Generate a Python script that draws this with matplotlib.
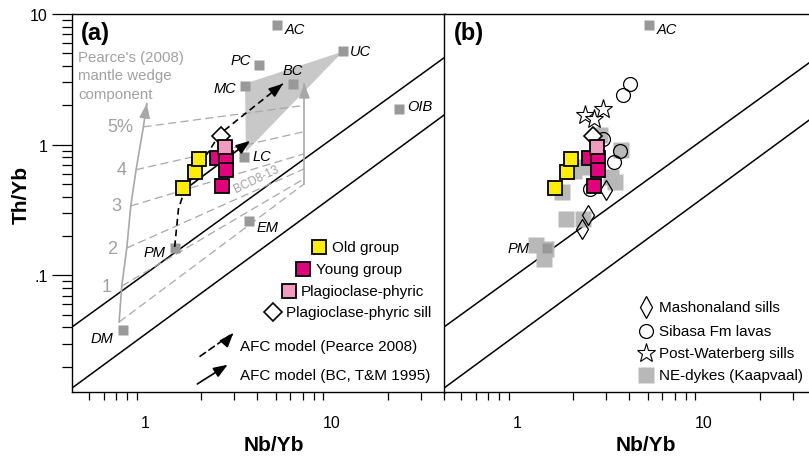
import numpy as np
import matplotlib
matplotlib.use('Agg')
import matplotlib.pyplot as plt
from matplotlib.ticker import FixedLocator, FuncFormatter, NullFormatter
from matplotlib.patches import Polygon

plt.rcParams['font.family'] = ['Liberation Sans', 'DejaVu Sans']

# ---------------- data ----------------
ref_names = ['AC', 'UC', 'PC', 'MC', 'BC', 'OIB', 'LC', 'EM', 'PM', 'DM']
ref_nb = [5.1, 11.5, 4.1, 3.45, 6.2, 23.0, 3.4, 3.6, 1.44, 0.76]
ref_th = [8.3, 5.2, 4.1, 2.8, 2.9, 1.88, 0.80, 0.26, 0.162, 0.038]

old_nb = [1.60, 1.84, 1.95]
old_th = [0.469, 0.618, 0.781]
young_nb = [2.44, 2.72, 2.72, 2.58]
young_th = [0.791, 0.79, 0.636, 0.483]
plag_nb = [2.68]
plag_th = [0.96]
sill_nb = [2.55]
sill_th = [1.16]

mash_nb = [3.00, 2.40, 2.24]
mash_th = [0.453, 0.288, 0.225]
sibasa_nb = [4.01, 3.69, 2.88, 3.54, 3.30, 2.45]
sibasa_th = [2.93, 2.41, 1.10, 0.889, 0.737, 0.461]
pw_nb = [2.30, 2.58, 2.88]
pw_th = [1.68, 1.58, 1.86]
ne_nb = [2.77, 3.62, 2.25, 2.03, 3.20, 3.33, 1.73, 1.82, 2.25, 1.27, 1.42, 1.39]
ne_th = [1.18, 0.905, 0.675, 0.632, 0.569, 0.521, 0.437, 0.268, 0.272, 0.170, 0.160, 0.134]

array_nb = [0.4, 40.0]
array_upper_th = [0.0397, 4.63]
array_lower_th = [0.01354, 1.69]

bc_field_nb = [3.43, 11.5, 3.47]
bc_field_th = [2.93, 5.17, 0.884]

wedge_labels = ['', '1', '2', '3', '4', '5%']
wedge_nb = [0.726, 0.750, 0.798, 0.838, 0.895, 0.979]
wedge_th = [0.044, 0.083, 0.162, 0.340, 0.644, 1.37]
wedge_tip_nb = 1.021
wedge_tip_th = 2.06
bcd_nb = 7.13
bcd_th = [0.503, 0.55, 0.655, 0.853, 1.26, 2.0]
bcd_tip_th = 2.93

afc_p_nb = [1.44, 1.51, 1.64, 1.81, 2.10, 2.52, 3.65, 5.48]
afc_p_th = [0.165, 0.324, 0.461, 0.579, 0.809, 1.21, 1.85, 2.93]
afc_bc_nb = [1.60, 3.65]
afc_bc_th = [0.445, 1.07]

y_ticks = [0.1, 1, 10]
y_ticklabels = ['.1', '1', '10']
x_ticks = [1, 10]
x_ticklabels = ['1', '10']

# ---------------- styles ----------------
YELLOW = '#FFEE00'
MAGENTA = '#E4007C'
PINK = '#F09CC0'
REFGRAY = '#999999'
NEGRAY = '#B8B8B8'
FIELD = '#C8C8C8'
MIXGRAY = '#A8A8A8'
TXTGRAY = '#A0A0A0'

W, H = 809, 460
fig = plt.figure(figsize=(W / 100, H / 100), dpi=100)
ax_l, ax_r, ax_t, ax_b = 72, 445, 15, 392.7
aw = (ax_r - ax_l) / W
ah = (ax_b - ax_t) / H
axA = fig.add_axes([ax_l / W, 1 - ax_b / H, aw, ah])
axB = fig.add_axes([444 / W, 1 - ax_b / H, aw, ah])

XLIM = (0.406, 40.4)
YLIM = (0.0129, 10)
minor_x = [m * 10 ** e for e in (-1, 0, 1) for m in range(2, 10)]
minor_y = [m * 10 ** e for e in (-2, -1, 0) for m in range(2, 10)]

for ax in (axA, axB):
    ax.set_xscale('log')
    ax.set_yscale('log')
    ax.set_xlim(*XLIM)
    ax.set_ylim(*YLIM)
    for s in ax.spines.values():
        s.set_linewidth(1.0)
    ax.xaxis.set_major_locator(FixedLocator(x_ticks))
    ax.xaxis.set_major_formatter(FuncFormatter(lambda v, p: x_ticklabels[x_ticks.index(round(v))] if round(v) in x_ticks else ''))
    ax.xaxis.set_minor_locator(FixedLocator(minor_x))
    ax.xaxis.set_minor_formatter(NullFormatter())
    ax.tick_params(axis='x', which='major', length=0, pad=17, labelsize=11.5)
    ax.tick_params(axis='x', which='minor', length=6, width=0.9, direction='out')
    ax.yaxis.set_major_locator(FixedLocator(y_ticks))
    ax.yaxis.set_major_formatter(FuncFormatter(
        lambda v, p: y_ticklabels[int(np.argmin([abs(np.log10(v) - np.log10(t)) for t in y_ticks]))]))
    ax.yaxis.set_minor_locator(FixedLocator(minor_y))
    ax.yaxis.set_minor_formatter(NullFormatter())
    ax.tick_params(axis='y', which='major', length=14.5, width=0.9, labelsize=11.5, pad=3)
    ax.tick_params(axis='y', which='minor', length=7.5, width=0.9)
    ax.tick_params(top=False, right=False)
    # mantle array lines
    ax.plot(array_nb, array_upper_th, color='black', lw=1.1, zorder=2)
    ax.plot(array_nb, array_lower_th, color='black', lw=1.1, zorder=2)
    ax.text(0.541, -0.14, 'Nb/Yb', transform=ax.transAxes, ha='center', va='center',
            fontsize=15, fontweight='bold')

axB.tick_params(axis='y', which='both', left=False, labelleft=False)
fig.text(21.7 / W, 1 - 195 / H, 'Th/Yb', rotation=90, ha='center', va='center',
         fontsize=15, fontweight='bold')


def px2ax(px, py):
    return ((px - ax_l) / (ax_r - ax_l), (ax_b - py) / (ax_b - ax_t))


def arrow_head(ax, xs, ys, color, lw=1.2, hl=0.85, hw=0.32, z=5):
    tx, ty = xs[-1], ys[-1]
    px, py = xs[-2], ys[-2]
    # start very close to the tip in log space so only the head shows
    sx = tx * (px / tx) ** 0.02
    sy = ty * (py / ty) ** 0.02
    ax.annotate('', xy=(tx, ty), xytext=(sx, sy),
                arrowprops=dict(arrowstyle=f'-|>,head_length={hl},head_width={hw}',
                                color=color, lw=lw, shrinkA=0, shrinkB=0), zorder=z)


def ref_label(ax, name, x, y, dx, dy, ha):
    ax.annotate(name, (x, y), xytext=(dx * 0.72, -dy * 0.72), textcoords='offset points',
                ha=ha, va='center', fontsize=10.5, style='italic', zorder=8)


# ---------------- panel (a) ----------------
axA.add_patch(Polygon(np.column_stack([bc_field_nb, bc_field_th]), closed=True,
                      facecolor=FIELD, edgecolor='none', zorder=1))

# mantle wedge component curve and mixing lines
wx = wedge_nb + [wedge_tip_nb]
wy = wedge_th + [wedge_tip_th]
axA.plot(wx, wy, color=MIXGRAY, lw=1.2, zorder=2)
arrow_head(axA, wx, wy, MIXGRAY, lw=1.2, z=2)
axA.plot([bcd_nb, bcd_nb], [bcd_th[0], bcd_tip_th], color=MIXGRAY, lw=1.2, zorder=2)
arrow_head(axA, [bcd_nb, bcd_nb], [bcd_th[0], bcd_tip_th], MIXGRAY, lw=1.2, z=2)
for x0, y0, y1 in zip(wedge_nb, wedge_th, bcd_th):
    axA.plot([x0, bcd_nb], [y0, y1], color=MIXGRAY, lw=0.9, ls=(0, (6.5, 3.5)), zorder=2)
for lab, x0, y0 in zip(wedge_labels, wedge_nb, wedge_th):
    if lab:
        axA.annotate(lab, (x0, y0), xytext=(-7, 0), textcoords='offset points',
                     ha='right', va='center', fontsize=13, color=TXTGRAY)
for i, line in enumerate(["Pearce's (2008)", 'mantle wedge', 'component']):
    axA.text(*px2ax(78, [58, 76.5, 95][i]), line, transform=axA.transAxes, ha='left',
             va='center', fontsize=10.8, color=TXTGRAY)
axA.text(3.93, 0.549, 'BCD8-13', rotation=26, ha='center', va='center', fontsize=8.5,
         color=TXTGRAY, zorder=3)

# reference compositions
axA.plot(ref_nb, ref_th, ls='none', marker='s', ms=6.5, color=REFGRAY, mec='none', zorder=3)
offs = {'AC': (7.7, 4.7, 'left'), 'UC': (7, 0, 'left'), 'PC': (-8.6, -5, 'right'),
        'MC': (-9.7, 2, 'right'), 'BC': (0, -14, 'center'), 'OIB': (8, -3, 'left'),
        'LC': (8, -1.6, 'left'), 'EM': (7.4, 6, 'left'), 'PM': (-9, 4.4, 'right'),
        'DM': (-9.4, 7.3, 'right')}
for n, x, y in zip(ref_names, ref_nb, ref_th):
    dx, dy, ha = offs[n]
    ref_label(axA, n, x, y, dx, dy, ha)

# AFC models
axA.plot(afc_p_nb, afc_p_th, color='black', lw=1.2, ls=(0, (4, 2.5)), zorder=4)
arrow_head(axA, afc_p_nb, afc_p_th, 'black', lw=1.2, z=4)
axA.annotate('', xy=(afc_bc_nb[1], afc_bc_th[1]), xytext=(afc_bc_nb[0], afc_bc_th[0]),
             arrowprops=dict(arrowstyle='-|>,head_length=0.85,head_width=0.32', color='black',
                             lw=1.2, shrinkA=0, shrinkB=0), zorder=4)

# samples
axA.plot(sill_nb, sill_th, ls='none', marker='D', ms=9, mfc='white', mec='black', mew=1.2, zorder=5)
axA.plot(old_nb, old_th, ls='none', marker='s', ms=10, mfc=YELLOW, mec='black', mew=1.3, zorder=6)
axA.plot(young_nb, young_th, ls='none', marker='s', ms=10, mfc=MAGENTA, mec='black', mew=1.3, zorder=6)
axA.plot(plag_nb, plag_th, ls='none', marker='s', ms=10, mfc=PINK, mec='black', mew=1.3, zorder=7)

axA.text(*px2ax(95.8, 33.3), '(a)', transform=axA.transAxes, ha='center', va='center',
         fontsize=17, fontweight='bold')

# legend (a)
leg_a = [('Old group', dict(marker='s', ms=10, mfc=YELLOW, mec='black', mew=1.3), 331.7, 247.7),
         ('Young group', dict(marker='s', ms=10, mfc=MAGENTA, mec='black', mew=1.3), 316, 270),
         ('Plagioclase-phyric', dict(marker='s', ms=10, mfc=PINK, mec='black', mew=1.3), 301, 291.7),
         ('Plagioclase-phyric sill', dict(marker='D', ms=9, mfc='white', mec='black', mew=1.2), 285.7, 313.3)]
for text, mk, tx, ty in leg_a:
    axA.plot(*px2ax(tx - 12.5, ty), transform=axA.transAxes, ls='none', clip_on=False, zorder=9, **mk)
    axA.text(*px2ax(tx, ty), text, transform=axA.transAxes, ha='left', va='center', fontsize=11)

p0, p1 = px2ax(200, 357.3), px2ax(233.3, 334)
axA.annotate('', xy=p1, xytext=p0, xycoords='axes fraction', textcoords='axes fraction',
             arrowprops=dict(arrowstyle='-', color='black', lw=1.2, ls=(0, (4, 2.5)),
                             shrinkA=0, shrinkB=3))
axA.annotate('', xy=p1, xytext=(p1[0] - 0.004, p1[1] - 0.0045), xycoords='axes fraction',
             textcoords='axes fraction',
             arrowprops=dict(arrowstyle='-|>,head_length=0.85,head_width=0.32', color='black',
                             lw=1.2, shrinkA=0, shrinkB=0))
axA.text(*px2ax(240, 346.7), 'AFC model (Pearce 2008)', transform=axA.transAxes,
         ha='left', va='center', fontsize=11)
axA.annotate('', xy=px2ax(227.7, 365.7), xytext=px2ax(197.3, 385), xycoords='axes fraction',
             textcoords='axes fraction',
             arrowprops=dict(arrowstyle='-|>,head_length=0.85,head_width=0.32', color='black',
                             lw=1.2, shrinkA=0, shrinkB=0))
axA.text(*px2ax(240, 376), 'AFC model (BC, T&M 1995)', transform=axA.transAxes,
         ha='left', va='center', fontsize=11)

# ---------------- panel (b) ----------------
axB.plot(ne_nb, ne_th, ls='none', marker='s', ms=11, color=NEGRAY, mec='none', zorder=2)
iPM = ref_names.index('PM')
iAC = ref_names.index('AC')
axB.plot([ref_nb[iPM], ref_nb[iAC]], [ref_th[iPM], ref_th[iAC]], ls='none', marker='s', ms=6.5,
         color=REFGRAY, mec='none', zorder=3)
ref_label(axB, 'AC', ref_nb[iAC], ref_th[iAC], 7.7, 4.7, 'left')
ref_label(axB, 'PM', ref_nb[iPM], ref_th[iPM], -17, 0, 'right')

axB.plot(sibasa_nb, sibasa_th, ls='none', marker='o', ms=10, mfc='none', mec='black', mew=0.9, zorder=4)
axB.plot(pw_nb, pw_th, ls='none', marker='*', ms=14, mfc='white', mec='black', mew=0.8, zorder=4)
axB.plot(mash_nb, mash_th, ls='none', marker='d', ms=10, mfc='none', mec='black', mew=0.9, zorder=4)
axB.plot(sill_nb, sill_th, ls='none', marker='D', ms=9, mfc='white', mec='black', mew=1.2, zorder=5)
axB.plot(old_nb, old_th, ls='none', marker='s', ms=10, mfc=YELLOW, mec='black', mew=1.3, zorder=6)
axB.plot(young_nb, young_th, ls='none', marker='s', ms=10, mfc=MAGENTA, mec='black', mew=1.3, zorder=6)
axB.plot(plag_nb, plag_th, ls='none', marker='s', ms=10, mfc=PINK, mec='black', mew=1.3, zorder=7)

def px2axB(px, py):
    return ((px - 444) / (ax_r - ax_l), (ax_b - py) / (ax_b - ax_t))

axB.text(*px2axB(469, 33.3), '(b)', transform=axB.transAxes, ha='center', va='center',
         fontsize=17, fontweight='bold')
leg_b = [('Mashonaland sills', dict(marker='d', ms=11, mfc='white', mec='black', mew=0.9), 308.3),
         ('Sibasa Fm lavas', dict(marker='o', ms=10, mfc='white', mec='black', mew=0.9), 331.7),
         ('Post-Waterberg sills', dict(marker='*', ms=14, mfc='white', mec='black', mew=0.8), 354),
         ('NE-dykes (Kaapvaal)', dict(marker='s', ms=11, color=NEGRAY, mec='none'), 376)]
for text, mk, ty in leg_b:
    axB.plot(*px2axB(646, ty), transform=axB.transAxes, ls='none', clip_on=False, zorder=9, **mk)
    axB.text(*px2axB(659.3, ty), text, transform=axB.transAxes, ha='left', va='center', fontsize=11)

fig.savefig('out.png', dpi=100)
